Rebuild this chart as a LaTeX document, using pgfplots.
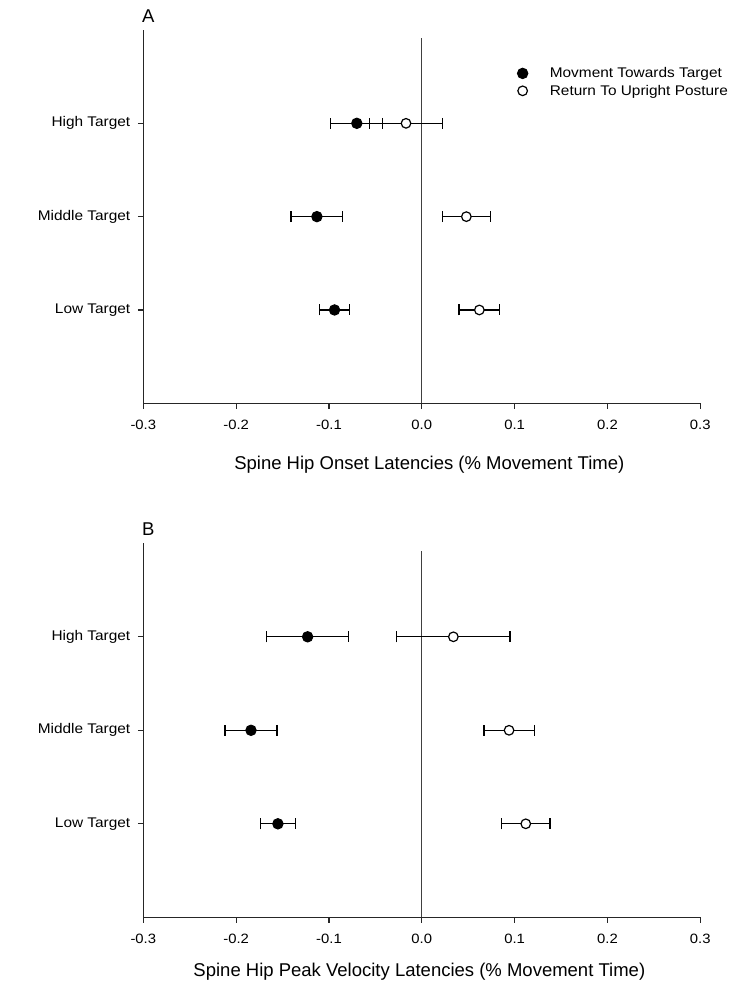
\documentclass[border=0pt]{standalone}
\usepackage{pgfplots}
\pgfplotsset{compat=1.18}
\usepackage{pgfplotstable}
\usepackage{fontspec}
\setmainfont{Liberation Sans}
\newfontfamily\tfont{Liberation Sans}[FakeStretch=1.1]

% panel A: onset latencies
\pgfplotstableread{
y x ex
3 -0.070 0.028
2 -0.113 0.028
1 -0.094 0.016
}\Afill
\pgfplotstableread{
y x ex
3 -0.017 0.039
2 0.048 0.026
1 0.062 0.022
}\Aopen
% panel B: peak velocity latencies
\pgfplotstableread{
y x ex
3 -0.123 0.044
2 -0.184 0.028
1 -0.155 0.019
}\Bfill
\pgfplotstableread{
y x ex
3 0.034 0.061
2 0.094 0.027
1 0.112 0.026
}\Bopen

\pgfplotsset{
  panel/.style={
    scale only axis, width=557bp,
    xmin=-0.3, xmax=0.3, ymin=0, ymax=4,
    axis lines=left,
    axis line style={-, line width=1.2bp, black!85},
    tick align=outside, major tick length=5.5bp,
    tick style={line width=1.2bp, black!85},
    xtick={-0.3,-0.2,-0.1,0,0.1,0.2,0.3},
    ytick={1,2,3},
    yticklabels={Low Target, Middle Target, High Target},
    /pgf/number format/fixed,
    /pgf/number format/fixed zerofill,
    /pgf/number format/precision=1,
    /pgf/number format/assume math mode=true,
    xticklabel style={font=\tfont\fontsize{13.5bp}{16bp}\selectfont, yshift=-8bp},
    yticklabel style={font=\tfont\fontsize{14bp}{17bp}\selectfont, xshift=-4bp},
    title style={at={(rel axis cs:0,1)}, anchor=base west, yshift=2bp, xshift=-1.5bp,
      inner sep=0pt, font=\fontsize{18.5bp}{22bp}\selectfont},
    xlabel style={anchor=base, inner sep=0pt, font=\fontsize{18.5bp}{22bp}\selectfont},
    clip=false,
  },
  filled/.style={only marks, mark=*, mark size=5.2bp,
    mark options={fill=black, draw=black, line width=1bp},
    error bars/.cd, x dir=both, x explicit,
    error bar style={line width=1.2bp, black},
    error mark options={rotate=90, mark size=5.5bp, line width=1.2bp, black}},
  open/.style={only marks, mark=*, mark size=4.8bp,
    mark options={fill=white, draw=black, line width=1.2bp},
    error bars/.cd, x dir=both, x explicit,
    error bar style={line width=1.2bp, black},
    error mark options={rotate=90, mark size=5.5bp, line width=1.2bp, black}},
}

\begin{document}
\begin{tikzpicture}
\path[use as bounding box] (0,0) rectangle (756bp,984bp);

\begin{axis}[panel, height=373.3bp,
  at={(143.3bp,580.7bp)}, anchor=south west,
  title={A},
  xlabel={Spine Hip Onset Latencies (\% Movement Time)},
  xlabel style={at={(rel axis cs:0.5135,0)}, yshift=-66bp},
  legend style={draw=none, fill=none, at={(axis cs:0.0996,3.642)}, anchor=north west,
    font=\tfont\fontsize{14bp}{17bp}\selectfont, row sep=1.8bp,
    /tikz/every odd column/.append style={column sep=20bp}},
  legend cell align=left,
]
\addplot[forget plot, line width=1bp, black!75] coordinates {(0,0) (0,3.91)};
\addplot[filled] table[x=x, y=y, x error=ex] {\Afill};
\addlegendentry{Movment Towards Target}
\addplot[open] table[x=x, y=y, x error=ex] {\Aopen};
\addlegendentry{Return To Upright Posture}
\end{axis}

\begin{axis}[panel, height=374bp,
  at={(143.3bp,66.7bp)}, anchor=south west,
  title={B},
  xlabel={Spine Hip Peak Velocity Latencies (\% Movement Time)},
  xlabel style={at={(rel axis cs:0.4956,0)}, yshift=-59bp},
]
\addplot[forget plot, line width=1bp, black!75] coordinates {(0,0) (0,3.92)};
\addplot[filled] table[x=x, y=y, x error=ex] {\Bfill};
\addplot[open] table[x=x, y=y, x error=ex] {\Bopen};
\end{axis}
\end{tikzpicture}
\end{document}
